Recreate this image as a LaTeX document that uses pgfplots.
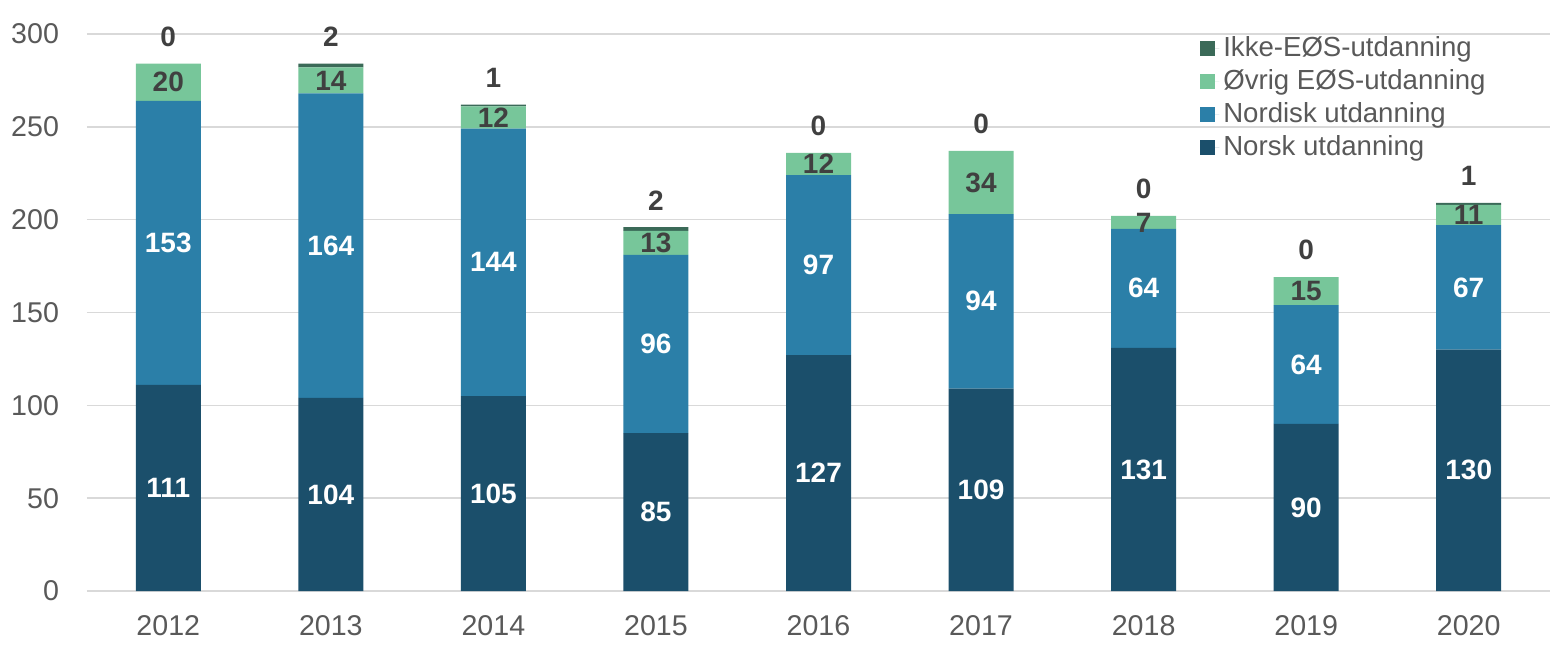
\documentclass[border=0pt]{standalone}
\usepackage{fontspec}
\setmainfont{Liberation Sans}
\usepackage{pgfplots}
\usepackage{pgfplotstable}
\pgfplotsset{compat=1.18}

\definecolor{norsk}{HTML}{1B4F6B}
\definecolor{nordisk}{HTML}{2B7FA8}
\definecolor{ovrig}{HTML}{77C69A}
\definecolor{ikke}{HTML}{3B6A58}
\definecolor{txt}{HTML}{595959}
\definecolor{lbl}{HTML}{404040}
\definecolor{gridc}{HTML}{D9D9D9}

\pgfplotsset{
	frame/.style={
		scale only axis,
		width=731.5pt, height=278.5pt,
		xmin=-0.5, xmax=8.5,
		ymin=0, ymax=300,
		/pgf/number format/assume math mode=true,
	},
	% value labels, put in the middle of each segment
	lab/.style={draw=none, mark=none, nodes near coords, point meta=explicit,
		every node near coord/.append style={anchor=center,
			font=\fontsize{14}{14}\selectfont\bfseries, text=#1}},
}

\pgfplotstableread{
x norsk nordisk ovrig ikke
0 111 153 20 0
1 104 164 14 2
2 105 144 12 1
3 85  96  13 2
4 127 97  12 0
5 109 94  34 0
6 131 64  7  0
7 90  64  15 0
8 130 67  11 1
}\data

\begin{document}
\begin{tikzpicture}
	\begin{axis}[
		frame,
		ybar stacked,
		bar width=32.5pt,
		xtick=data,
		xticklabels={2012,2013,2014,2015,2016,2017,2018,2019,2020},
		ytick={0,50,...,300},
		ymajorgrids, xmajorgrids=false,
		major grid style={draw=gridc, line width=0.8pt},
		axis line style={draw=none},
		xtick style={draw=none}, ytick style={draw=none},
		tick label style={font=\fontsize{14.3}{14.3}\selectfont, text=txt},
		yticklabel style={xshift=-10.5pt},
		xticklabel style={yshift=-8.5pt},
		legend style={draw=none, fill=none, at={(0.7607,1.0026)}, anchor=north west,
			font=\fontsize{13.8}{13.8}\selectfont, text=txt,
			row sep=1pt, inner sep=0pt},
		legend cell align=left,
		reverse legend,
		legend image code/.code={%
			\fill[#1] (0pt,-3.75pt) rectangle (7.5pt,3.75pt);
			\path (0pt,0pt) -- (9.5pt,0pt);},
	]
	\addplot[fill=norsk, draw=none] table[x=x, y=norsk] {\data};
	\addplot[fill=nordisk, draw=none] table[x=x, y=nordisk] {\data};
	\addplot[fill=ovrig, draw=none] table[x=x, y=ovrig] {\data};
	\addplot[fill=ikke, draw=none] table[x=x, y=ikke] {\data};
	\legend{Norsk utdanning, Nordisk utdanning, Øvrig EØS-utdanning, Ikke-EØS-utdanning}
	\end{axis}
	\begin{axis}[frame, hide axis]
	\addplot[lab=white] table[x=x, y expr=\thisrow{norsk}/2, meta=norsk] {\data};
	\addplot[lab=white] table[x=x, y expr=\thisrow{norsk}+\thisrow{nordisk}/2, meta=nordisk] {\data};
	\addplot[lab=lbl] table[x=x, y expr=\thisrow{norsk}+\thisrow{nordisk}+\thisrow{ovrig}/2, meta=ovrig] {\data};
	\addplot[lab=lbl, every node near coord/.append style={anchor=south, yshift=5pt}]
		table[x=x, y expr=\thisrow{norsk}+\thisrow{nordisk}+\thisrow{ovrig}+\thisrow{ikke}, meta=ikke] {\data};
	\end{axis}
	\pgfresetboundingbox
	\path (-43.5pt,-31pt) rectangle (736pt,295.5pt);
\end{tikzpicture}
\end{document}
